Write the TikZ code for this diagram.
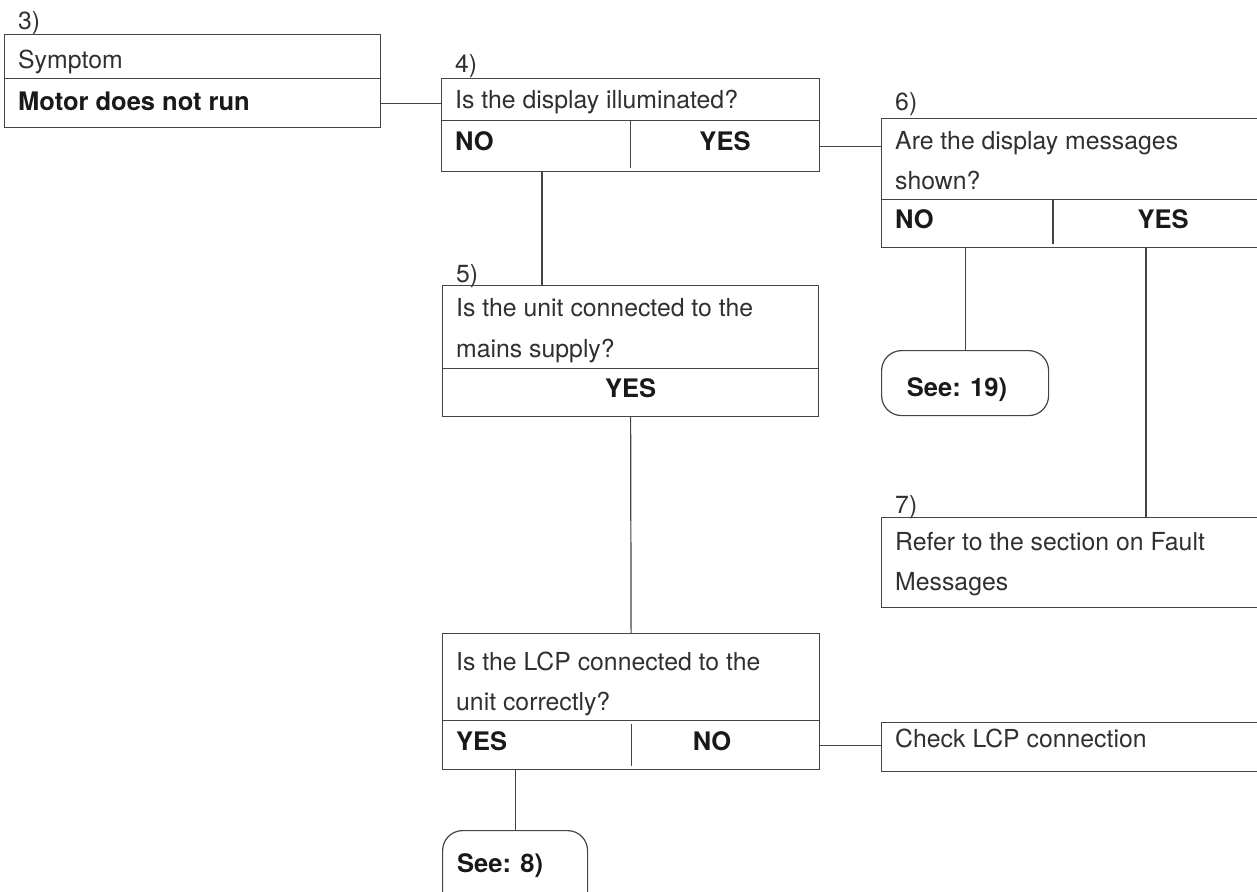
\documentclass[tikz,border=0pt]{standalone}
\usepackage{fontspec}
\setmainfont{TeX Gyre Heros}
\usetikzlibrary{positioning}
\definecolor{ink}{HTML}{303030}
\definecolor{rule}{HTML}{444444}
\tikzset{
    box/.style={draw=rule, line width=1.2pt, rectangle, inner sep=0pt,
        anchor=north west},
    seebox/.style={box, rounded corners=20pt},
    txt/.style={anchor=base west, inner sep=0pt, text=ink,
        font=\fontsize{24.8}{30}\selectfont},
    bold/.style={txt, text=black!90, font=\fontsize{25.5}{30}\selectfont\bfseries},
    link/.style={draw=rule, line width=1.2pt}
}

\begin{document}
\begin{tikzpicture}[x=1pt, y=-1pt]
	\useasboundingbox (0,0) rectangle (1257,891);
	% boxes
	\node[box, minimum width=376pt, minimum height=44pt] (s3top) at (4,34) {};
	\node[box, minimum width=376pt, minimum height=49pt] (s3ans) at (4,78) {};
	\node[box, minimum width=378pt, minimum height=42pt] (q4top) at (441,78) {};
	\node[box, minimum width=378pt, minimum height=51pt] (q4ans) at (441,120) {};
	\node[box, minimum width=377pt, minimum height=81pt] (q6top) at (881,118) {};
	\node[box, minimum width=377pt, minimum height=48pt] (q6ans) at (881,199) {};
	\node[box, minimum width=376pt, minimum height=83pt] (q5top) at (442,285) {};
	\node[box, minimum width=376pt, minimum height=48pt] (q5ans) at (442,368) {};
	\node[box, minimum width=377pt, minimum height=90pt] (r7) at (881,517) {};
	\node[box, minimum width=377pt, minimum height=87pt] (q8top) at (442,633) {};
	\node[box, minimum width=377pt, minimum height=49pt] (q8ans) at (442,720) {};
	\node[box, minimum width=377pt, minimum height=49pt] (chk) at (881,722) {};
	\node[seebox, minimum width=167pt, minimum height=65pt] (see19) at (881,350) {};
	\node[seebox, minimum width=145pt, minimum height=95pt] (see8) at (442,830) {};

	% dividers
	\draw[link] (q4ans.north) -- ([yshift=4pt]q4ans.south);
	\draw[link] ([xshift=172pt]q6ans.north west) -- ([xshift=172pt,yshift=4pt]q6ans.south west);
	\draw[link] ([yshift=-4pt]q8ans.north) -- ([yshift=4pt]q8ans.south);

	% texts
	\node[txt] (lab3) at ([xshift=14pt,yshift=4pt]s3top.north west) {3)};
	\node[txt] (s3t) at ([xshift=14pt,yshift=-34pt]s3top.north west) {Symptom};
	\node[bold] (s3a) at ([xshift=14pt,yshift=-32pt]s3ans.north west) {Motor does not run};

	\node[txt] (lab4) at ([xshift=14pt,yshift=6pt]q4top.north west) {4)};
	\node[txt] (q4t) at ([xshift=14pt,yshift=-30pt]q4top.north west) {Is the display illuminated?};
	\node[bold] (q4no) at ([xshift=14pt,yshift=-30pt]q4ans.north west) {NO};
	\node[bold, anchor=base] (q4yes) at ([xshift=284pt,yshift=-30pt]q4ans.north west) {YES};

	\node[txt] (lab6) at ([xshift=14pt,yshift=8pt]q6top.north west) {6)};
	\node[txt] (q6t1) at ([xshift=14pt,yshift=-31pt]q6top.north west) {Are the display messages};
	\node[txt] (q6t2) at ([xshift=14pt,yshift=-71pt]q6top.north west) {shown?};
	\node[bold] (q6no) at ([xshift=14pt,yshift=-29pt]q6ans.north west) {NO};
	\node[bold, anchor=base] (q6yes) at ([xshift=282pt,yshift=-29pt]q6ans.north west) {YES};

	\node[txt] (lab5) at ([xshift=14pt,yshift=3pt]q5top.north west) {5)};
	\node[txt] (q5t1) at ([xshift=14pt,yshift=-31pt]q5top.north west) {Is the unit connected to the};
	\node[txt] (q5t2) at ([xshift=14pt,yshift=-72pt]q5top.north west) {mains supply?};
	\node[bold, anchor=base] (q5yes) at ([yshift=-29pt]q5ans.north) {YES};

	\node[txt] (lab7) at ([xshift=14pt,yshift=4pt]r7.north west) {7)};
	\node[txt] (r7t1) at ([xshift=14pt,yshift=-33pt]r7.north west) {Refer to the section on Fault};
	\node[txt] (r7t2) at ([xshift=14pt,yshift=-73pt]r7.north west) {Messages};

	\node[txt] (q8t1) at ([xshift=14pt,yshift=-37pt]q8top.north west) {Is the LCP connected to the};
	\node[txt] (q8t2) at ([xshift=14pt,yshift=-77pt]q8top.north west) {unit correctly?};
	\node[bold] (q8yes) at ([xshift=14pt,yshift=-30pt]q8ans.north west) {YES};
	\node[bold, anchor=base] (q8no) at ([xshift=270pt,yshift=-30pt]q8ans.north west) {NO};

	\node[txt] (chkt) at ([xshift=14pt,yshift=-25pt]chk.north west) {Check LCP connection};
	\node[bold, anchor=base] (see19t) at ([xshift=76pt,yshift=-46pt]see19.north west) {See: 19)};
	\node[bold] (see8t) at ([xshift=15pt,yshift=-42pt]see8.north west) {See: 8)};

	% connectors
	\draw[link] (s3ans.east) -- (s3ans.east -| q4top.west);
	\draw[link] (q4ans.east) -- (q4ans.east -| q6top.west);
	\draw[link] ([xshift=101pt]q4ans.south west) -- ([xshift=100pt]q5top.north west);
	\draw[link] (see19.north |- q6ans.south) -- (see19.north);
	\draw[link] ([xshift=265pt]q6ans.south west) -- ([xshift=265pt]r7.north west);
	\draw[link] (q5ans.south) -- (q8top.north);
	\draw[link] (q8ans.east) -- (q8ans.east -| chk.west);
	\draw[link] (see8.north |- q8ans.south) -- (see8.north);
\end{tikzpicture}
\end{document}
